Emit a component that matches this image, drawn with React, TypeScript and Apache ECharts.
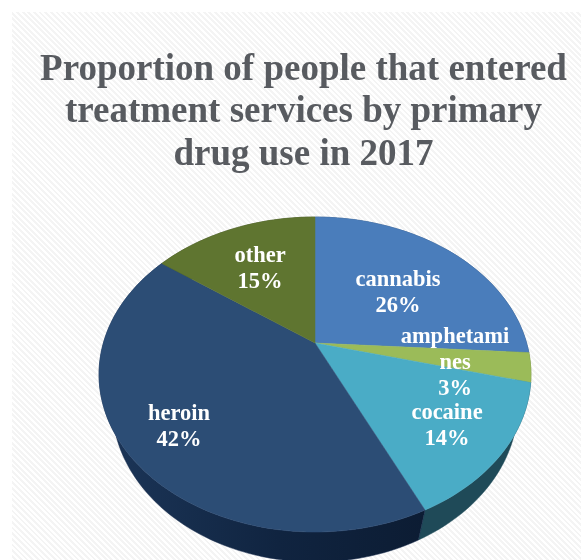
import React, { useEffect, useRef } from "react";
import * as echarts from "echarts";

const titleLines = [
  "Proportion of people that entered",
  "treatment services by primary",
  "drug use in 2017",
];
const categories = ["cannabis", "amphetamines", "cocaine", "heroin", "other"];
const shares = [26, 3, 14, 42, 15];

const topColors = ["#4a7dbb", "#9bbb59", "#4aacc6", "#2c4d75", "#5f7530"];
const sideColors = ["#2d4c73", "#5e7235", "#1f4a58", "#14294a", "#3a4720"];
const labelCentres = [
  [398, 291],
  [455, 361],
  [447, 424],
  [179, 425],
  [260, 267],
];

// Projection of the pie's circle onto the tilted disc (perspective as in the reference)
const CX = 315;
const CY = 343;
const RX = 211.6;
const RY = 151.2;
const K = 0.2;
const DEPTH = 30;
const BOTTOM_SCALE = 0.94;

function project(angle: number): [number, number] {
  const u = Math.sin(angle);
  const v = -Math.cos(angle);
  const w = 1 - K * v;
  return [CX + (RX * u) / w, CY + (RY * v) / w];
}

function sliceRange(index: number): [number, number] {
  const total = shares.reduce((a, b) => a + b, 0);
  let before = 0;
  for (let i = 0; i < index; i++) before += shares[i];
  return [
    (before / total) * Math.PI * 2,
    ((before + shares[index]) / total) * Math.PI * 2,
  ];
}

function rim(start: number, end: number): [number, number][] {
  const steps = Math.max(4, Math.ceil(((end - start) / (Math.PI * 2)) * 240));
  const pts: [number, number][] = [];
  for (let i = 0; i <= steps; i++) pts.push(project(start + ((end - start) * i) / steps));
  return pts;
}

const seriesData = categories.map((name, i) => ({ name, value: shares[i] }));

export default function App() {
  const ref = useRef<HTMLDivElement>(null);

  useEffect(() => {
    document.body.style.margin = "0";
    document.body.style.background = "#ffffff";
    const chart = echarts.init(ref.current!, null, { renderer: "svg" });
    chart.setOption({
      animation: false,
      backgroundColor: "transparent",
      title: {
        text: titleLines.join("\n"),
        left: 298.5,
        top: 41,
        textAlign: "center",
        textStyle: {
          fontFamily: "Liberation Serif",
          fontWeight: "bold",
          fontSize: 37,
          lineHeight: 42.5,
          color: "#585b60",
        },
      },
      series: [
        {
          type: "custom",
          coordinateSystem: "none",
          z: 1,
          data: seriesData,
          renderItem: (params: any) => {
            const [a, b] = sliceRange(params.dataIndex);
            const top = rim(a, b);
            const bottom = top
              .map(([x, y]) => [CX + (x - CX) * BOTTOM_SCALE, y + DEPTH] as [number, number])
              .reverse();
            const color = sideColors[params.dataIndex];
            const fill = params.dataIndex === 3
              ? {
                  type: "linear", x: 0, y: 0, x2: 1, y2: 0,
                  colorStops: [
                    { offset: 0, color: "#1c3659" },
                    { offset: 0.55, color: "#102440" },
                    { offset: 1, color: "#0c1c33" },
                  ],
                }
              : color;
            return {
              type: "polygon",
              shape: { points: [...top, ...bottom] },
              style: { fill, stroke: color, lineWidth: 0.5 },
            };
          },
        },
        {
          type: "custom",
          coordinateSystem: "none",
          z: 2,
          data: seriesData,
          renderItem: (params: any) => {
            const [a, b] = sliceRange(params.dataIndex);
            const color = topColors[params.dataIndex];
            return {
              type: "polygon",
              shape: { points: [[CX, CY], ...rim(a, b)] },
              style: { fill: color, stroke: color, lineWidth: 0.5 },
            };
          },
        },
        {
          type: "custom",
          coordinateSystem: "none",
          z: 3,
          data: seriesData,
          renderItem: (params: any) => {
            const i = params.dataIndex;
            const name = categories[i];
            const shown = name.length > 9 ? name.slice(0, 9) + "\n" + name.slice(9) : name;
            return {
              type: "text",
              x: labelCentres[i][0],
              y: labelCentres[i][1],
              style: {
                text: `${shown}\n${shares[i]}%`,
                fill: "#ffffff",
                font: 'bold 22.5px "Liberation Serif"',
                lineHeight: 26,
                align: "center",
                verticalAlign: "middle",
              },
            };
          },
        },
      ],
    });
    return () => chart.dispose();
  }, []);

  return (
    <div style={{ position: "fixed", left: 0, top: 0, width: 581, height: 560, background: "#fff", overflow: "hidden" }}>
      <div
        style={{
          position: "absolute",
          left: 12,
          top: 12,
          right: 0,
          bottom: 0,
          background: "repeating-linear-gradient(45deg, #ffffff 0px, #ffffff 2px, #f4f4f4 2px, #f4f4f4 4px)",
        }}
      />
      <div ref={ref} style={{ position: "absolute", left: 0, top: 0, width: 581, height: 560, filter: "blur(0.5px)" }} />
    </div>
  );
}
